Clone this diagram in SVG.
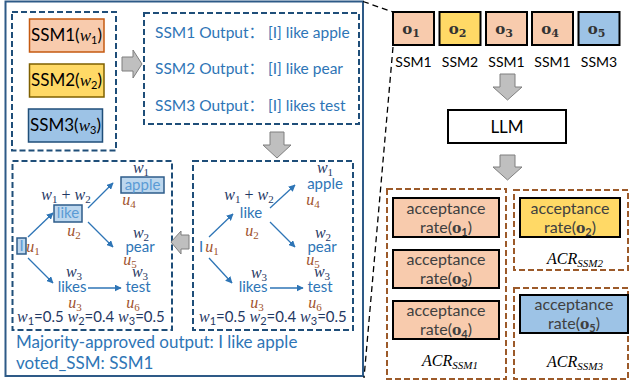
<svg xmlns="http://www.w3.org/2000/svg" width="631" height="383" viewBox="0 0 631 383">
<defs>
<marker id="ah" viewBox="0 0 10 10" refX="9" refY="5" markerWidth="7" markerHeight="7" markerUnits="userSpaceOnUse" orient="auto"><path d="M0,0 L10,5 L0,10 z" fill="#2E75B6"/></marker>
<style>
text{font-family:Lato,"Liberation Sans","Noto Sans CJK SC",sans-serif}
.frame{fill:none;stroke:#2E5A87;stroke-width:2}
.dbox{fill:none;stroke:#1F4E79;stroke-width:2;stroke-dasharray:6 3}
.brbox{fill:none;stroke:#9C5A2A;stroke-width:2;stroke-dasharray:6 3}
.garrow{fill:#BFBFBF;stroke:#7F7F7F;stroke-width:1}
.zoomline{stroke:#000;stroke-width:1.3;stroke-dasharray:6 4;fill:none}
.conn{stroke:#2E75B6;stroke-width:1.3;fill:none;marker-end:url(#ah)}
.ssm{font-size:17px;fill:#000}
.out{font-size:15.5px;fill:#2E75B6}
.res{font-size:17px;fill:#2E75B6}
.blue{font-size:15px;fill:#2E75B6;text-anchor:middle}
.lblue{font-size:15px;fill:#5B9BD5;text-anchor:middle}
.m{font-family:"Liberation Serif","DejaVu Serif",serif;font-style:italic}
.w{font-family:"Liberation Serif","DejaVu Serif",serif;font-style:italic;font-size:16px;fill:#1F3864;text-anchor:middle}
.u{font-family:"Liberation Serif","DejaVu Serif",serif;font-style:italic;font-size:16px;fill:#A0522D;text-anchor:middle}
.wt{font-size:15px;fill:#1F3864}
.sub{font-size:11px;font-style:normal}
.isub{font-size:11px;font-style:italic}
.obox{stroke:#000;stroke-width:2}
.ot{font-family:"DejaVu Serif","Liberation Serif",serif;font-weight:bold;font-size:15px;fill:#333;text-anchor:middle}
.oi{font-family:"DejaVu Serif","Liberation Serif",serif;font-weight:bold;font-size:14px}
.lab{font-size:14px;fill:#000;text-anchor:middle}
.llm{font-size:17px;fill:#000;text-anchor:middle}
.acc{font-size:16px;fill:#404040;text-anchor:middle}
.acr{font-family:"Liberation Serif","DejaVu Serif",serif;font-style:italic;font-size:16px;fill:#000;text-anchor:middle}
.pk{fill:#F8CBAD}.yl{fill:#FFD966}.bl{fill:#9DC3E6}
.hl{fill:#BDD7EE;stroke:#2E5C8A;stroke-width:1.5}
</style>
</defs>

<rect id="frame" class="frame" x="5.5" y="1.5" width="357.5" height="374.5"/>

<g id="ssm-list">
<rect class="dbox" x="12" y="12" width="104" height="138.5"/>
<g id="ssm1"><rect x="29.5" y="19" width="74.5" height="33" fill="#F8CBAD" stroke="#C55A11" stroke-width="1.5"/>
<text class="ssm" x="31" y="41">SSM1(<tspan class="m">w</tspan><tspan class="sub" dy="3">1</tspan><tspan dy="-3">)</tspan></text></g>
<g id="ssm2"><rect x="29.5" y="64" width="74.5" height="33" fill="#FFD966" stroke="#7F6000" stroke-width="1.5"/>
<text class="ssm" x="31" y="86">SSM2(<tspan class="m">w</tspan><tspan class="sub" dy="3">2</tspan><tspan dy="-3">)</tspan></text></g>
<g id="ssm3"><rect x="28.5" y="109" width="74" height="33" fill="#9DC3E6" stroke="#1F4E79" stroke-width="1.5"/>
<text class="ssm" x="30" y="131">SSM3(<tspan class="m">w</tspan><tspan class="sub" dy="3">3</tspan><tspan dy="-3">)</tspan></text></g>
</g>

<g id="outputs">
<rect class="dbox" x="144" y="13" width="215" height="111"/>
<text class="out" x="155" y="38">SSM1 Output：  [I] like apple</text>
<text class="out" x="155" y="74">SSM2 Output：  [I] like pear</text>
<text class="out" x="155" y="111">SSM3 Output：  [I] likes test</text>
</g>

<g id="tree-right">
<rect class="dbox" x="193" y="161" width="160" height="169"/>
<text class="blue" x="201" y="252">I</text>
<text class="u" x="212" y="252">u<tspan class="sub" dy="3">1</tspan></text>
<text class="w" x="249" y="200">w<tspan class="sub" dy="3">1</tspan><tspan dy="-3" style="font-style:normal"> + </tspan>w<tspan class="sub" dy="3">2</tspan></text>
<text class="blue" x="251" y="218">like</text>
<text class="u" x="252" y="236">u<tspan class="sub" dy="3">2</tspan></text>
<text class="w" x="325" y="173">w<tspan class="sub" dy="3">1</tspan></text>
<text class="blue" x="325" y="189">apple</text>
<text class="u" x="313" y="205">u<tspan class="sub" dy="3">4</tspan></text>
<text class="w" x="323" y="238">w<tspan class="sub" dy="3">2</tspan></text>
<text class="blue" x="322" y="252">pear</text>
<text class="u" x="313" y="265">u<tspan class="sub" dy="3">5</tspan></text>
<text class="w" x="259" y="278">w<tspan class="sub" dy="3">3</tspan></text>
<text class="blue" x="253" y="292">likes</text>
<text class="u" x="257" y="308">u<tspan class="sub" dy="3">3</tspan></text>
<text class="w" x="322" y="277">w<tspan class="sub" dy="3">3</tspan></text>
<text class="blue" x="320" y="292">test</text>
<text class="u" x="315" y="308">u<tspan class="sub" dy="3">6</tspan></text>
<text class="wt" x="199" y="322"><tspan class="m" font-size="16">w</tspan><tspan class="sub" dy="3">1</tspan><tspan dy="-3">=0.5 </tspan><tspan class="m" font-size="16">w</tspan><tspan class="sub" dy="3">2</tspan><tspan dy="-3">=0.4 </tspan><tspan class="m" font-size="16">w</tspan><tspan class="sub" dy="3">3</tspan><tspan dy="-3">=0.5</tspan></text>
</g>

<g id="tree-left">
<rect class="dbox" x="12.5" y="161" width="159.5" height="169"/>
<rect class="hl" x="17" y="238" width="9" height="16"/>
<text class="lblue" x="21.5" y="251">I</text>
<text class="u" x="33" y="252">u<tspan class="sub" dy="3">1</tspan></text>
<text class="w" x="66" y="200">w<tspan class="sub" dy="3">1</tspan><tspan dy="-3" style="font-style:normal"> + </tspan>w<tspan class="sub" dy="3">2</tspan></text>
<rect class="hl" x="54" y="205" width="28" height="17"/>
<text class="lblue" x="68" y="218">like</text>
<text class="u" x="74" y="236">u<tspan class="sub" dy="3">2</tspan></text>
<text class="w" x="141" y="173">w<tspan class="sub" dy="3">1</tspan></text>
<rect class="hl" x="121" y="177" width="43" height="16"/>
<text class="lblue" x="142.5" y="190">apple</text>
<text class="u" x="129" y="205">u<tspan class="sub" dy="3">4</tspan></text>
<text class="w" x="141" y="238">w<tspan class="sub" dy="3">2</tspan></text>
<text class="blue" x="140" y="252">pear</text>
<text class="u" x="130" y="265">u<tspan class="sub" dy="3">5</tspan></text>
<text class="w" x="74" y="277">w<tspan class="sub" dy="3">3</tspan></text>
<text class="blue" x="72" y="292">likes</text>
<text class="u" x="75" y="308">u<tspan class="sub" dy="3">3</tspan></text>
<text class="w" x="140" y="277">w<tspan class="sub" dy="3">3</tspan></text>
<text class="blue" x="138" y="292">test</text>
<text class="u" x="133" y="308">u<tspan class="sub" dy="3">6</tspan></text>
<text class="wt" x="17" y="322"><tspan class="m" font-size="16">w</tspan><tspan class="sub" dy="3">1</tspan><tspan dy="-3">=0.5 </tspan><tspan class="m" font-size="16">w</tspan><tspan class="sub" dy="3">2</tspan><tspan dy="-3">=0.4 </tspan><tspan class="m" font-size="16">w</tspan><tspan class="sub" dy="3">3</tspan><tspan dy="-3">=0.5</tspan></text>
</g>

<g id="result">
<text class="res" x="16" y="348">Majority-approved output: I like apple</text>
<text class="res" x="16" y="369">voted_SSM: SSM1</text>
</g>

<g id="o-row">
<g id="o1"><rect class="obox pk" x="393" y="12" width="41" height="33"/><text class="ot" x="411" y="34">o<tspan class="sub" dy="3">1</tspan></text><text class="lab" x="413.5" y="67">SSM1</text></g>
<g id="o2"><rect class="obox yl" x="439.5" y="12" width="41" height="33"/><text class="ot" x="457.5" y="34">o<tspan class="sub" dy="3">2</tspan></text><text class="lab" x="460" y="67">SSM2</text></g>
<g id="o3"><rect class="obox pk" x="486" y="12" width="41" height="33"/><text class="ot" x="504" y="34">o<tspan class="sub" dy="3">3</tspan></text><text class="lab" x="506.5" y="67">SSM1</text></g>
<g id="o4"><rect class="obox pk" x="532" y="12" width="41" height="33"/><text class="ot" x="550" y="34">o<tspan class="sub" dy="3">4</tspan></text><text class="lab" x="552.5" y="67">SSM1</text></g>
<g id="o5"><rect class="obox bl" x="578.5" y="12" width="41" height="33"/><text class="ot" x="596.5" y="34">o<tspan class="sub" dy="3">5</tspan></text><text class="lab" x="599" y="67">SSM3</text></g>
</g>

<g id="llm"><rect x="448" y="110" width="118" height="33" fill="#fff" stroke="#000" stroke-width="2"/><text class="llm" x="507" y="133">LLM</text></g>

<g id="acr1">
<rect class="brbox" x="387" y="189" width="119" height="190"/>
<rect class="obox pk" x="393" y="198" width="106" height="39"/>
<text class="acc" x="446" y="214">acceptance</text>
<text class="acc" x="446" y="233">rate(<tspan class="oi">o</tspan><tspan class="sub" dy="3" font-weight="bold">1</tspan><tspan dy="-3">)</tspan></text>
<rect class="obox pk" x="393" y="250" width="106" height="38"/>
<text class="acc" x="446" y="265">acceptance</text>
<text class="acc" x="446" y="284">rate(<tspan class="oi">o</tspan><tspan class="sub" dy="3" font-weight="bold">3</tspan><tspan dy="-3">)</tspan></text>
<rect class="obox pk" x="393" y="301" width="106" height="38"/>
<text class="acc" x="446" y="316">acceptance</text>
<text class="acc" x="446" y="335">rate(<tspan class="oi">o</tspan><tspan class="sub" dy="3" font-weight="bold">4</tspan><tspan dy="-3">)</tspan></text>
<text class="acr" x="450" y="366">ACR<tspan class="isub" dy="3">SSM1</tspan></text>
</g>

<g id="acr2">
<rect class="brbox" x="514" y="190" width="114" height="80"/>
<rect class="obox yl" x="520" y="198" width="100" height="39"/>
<text class="acc" x="570" y="214">acceptance</text>
<text class="acc" x="570" y="233">rate(<tspan class="oi">o</tspan><tspan class="sub" dy="3" font-weight="bold">2</tspan><tspan dy="-3">)</tspan></text>
<text class="acr" x="575" y="264">ACR<tspan class="isub" dy="3">SSM2</tspan></text>
</g>

<g id="acr3">
<rect class="brbox" x="514" y="288" width="114" height="91"/>
<rect class="obox bl" x="520" y="295" width="108" height="38"/>
<text class="acc" x="574" y="310">acceptance</text>
<text class="acc" x="574" y="329">rate(<tspan class="oi">o</tspan><tspan class="sub" dy="3" font-weight="bold">5</tspan><tspan dy="-3">)</tspan></text>
<text class="acr" x="575" y="367">ACR<tspan class="isub" dy="3">SSM3</tspan></text>
</g>

<g id="connectors">
<polygon class="garrow" points="122,57 133,57 133,50 142,64 133,78 133,71 122,71"/>
<polygon class="garrow" points="270,132 284,132 284,145 291,145 277,158 263,145 270,145"/>
<polygon class="garrow" points="189,235 181,235 181,231 171,242 181,254 181,249 189,249"/>
<polygon class="garrow" points="500,74 515,74 515,87 522,87 507.5,100 493,87 500,87"/>
<polygon class="garrow" points="500,155 515,155 515,167 522,167 507.5,180 493,167 500,167"/>
<line class="zoomline" x1="363" y1="1.5" x2="393" y2="12"/>
<line class="zoomline" x1="393" y1="47" x2="364" y2="378"/>
<line class="conn" x1="28" y1="237" x2="53" y2="213"/>
<line class="conn" x1="28" y1="258" x2="53" y2="283"/>
<line class="conn" x1="88" y1="208" x2="113" y2="183"/>
<line class="conn" x1="88" y1="222" x2="113" y2="247"/>
<line class="conn" x1="88" y1="288" x2="121" y2="288"/>
<line class="conn" x1="209" y1="237" x2="233" y2="214"/>
<line class="conn" x1="209" y1="258" x2="232" y2="283"/>
<line class="conn" x1="270" y1="208" x2="295" y2="185"/>
<line class="conn" x1="270" y1="222" x2="295" y2="247"/>
<line class="conn" x1="270" y1="288" x2="303" y2="288"/>
</g>
</svg>
